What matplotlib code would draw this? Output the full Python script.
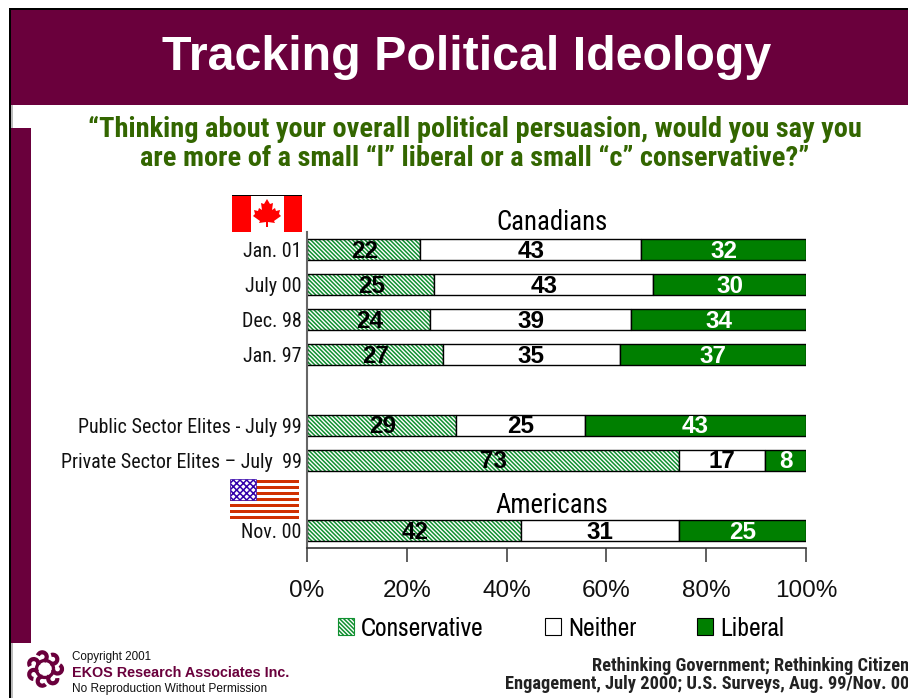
import numpy as np
import matplotlib
matplotlib.use("Agg")
import matplotlib.pyplot as plt
from matplotlib.patches import Rectangle, Polygon, Arc, Patch

# Survey results, top row first (blank rows separate the groups)
groups = ["Jan. 01", "July 00", "Dec. 98", "Jan. 97", "",
          "Public Sector Elites - July 99", "Private Sector Elites \u2013 July  99", "", "Nov. 00"]
conservative = [22, 25, 24, 27, 0, 29, 73, 0, 42]
neither = [43, 43, 39, 35, 0, 25, 17, 0, 31]
liberal = [32, 30, 34, 37, 0, 43, 8, 0, 25]
pct_ticks = [0, 20, 40, 60, 80, 100]

MAROON = "#6a003c"
GREEN = "#007f00"
HATCH_GREEN = "#109030"
OLIVE = "#336600"
NARROW = ["Roboto Condensed", "Liberation Sans"]
LEGEND_FONT = ["Archivo Narrow", "Roboto Condensed", "Liberation Sans"]
W, H = 908, 698

plt.rcParams["font.family"] = ["Liberation Sans", "DejaVu Sans"]
plt.rcParams["hatch.linewidth"] = 1.1

fig = plt.figure(figsize=(W / 100, H / 100), dpi=100, facecolor="white")

# overlay in pixel units for the slide furniture
bg = fig.add_axes([0, 0, 1, 1])
bg.set_xlim(0, W)
bg.set_ylim(H, 0)
bg.axis("off")

bg.add_patch(Rectangle((11, 105), 1.7, 593, color="#bbbbbb", lw=0))
bg.add_patch(Rectangle((9, 8), 899, 2.2, color="black", lw=0))
bg.add_patch(Rectangle((9, 8), 2.2, 690, color="black", lw=0))
bg.add_patch(Rectangle((11, 10), 897, 95, color=MAROON, lw=0))
bg.add_patch(Rectangle((11, 128), 19.5, 515, color=MAROON, lw=0))

bg.text(467, 58, "Tracking Political Ideology", color="white", fontsize=34.8,
        fontweight="bold", ha="center", va="center")
bg.text(475, 144, "\u201cThinking about your overall political persuasion, would you say you\n"
        "are more of a small \u201cl\u201d liberal or a small \u201cc\u201d conservative?\u201d",
        color=OLIVE, fontsize=20.4, fontweight="bold", family=NARROW,
        ha="center", va="center", linespacing=1.1)

# Canadian flag
bg.add_patch(Rectangle((232, 195), 70, 37, color="white", lw=0))
bg.add_patch(Rectangle((232, 195), 19, 37, color="#ff0000", lw=0))
bg.add_patch(Rectangle((284, 195), 18, 37, color="#ff0000", lw=0))
bg.add_patch(Rectangle((232, 195), 70, 1, color="black", lw=0))
leaf = [(267, 199), (270, 204), (273, 203), (272, 210), (275, 208), (276, 211),
        (280, 210), (279, 214), (281, 216), (274, 221), (275, 223), (268, 222),
        (268, 227), (266, 227), (266, 222), (259, 223), (260, 221), (253, 216),
        (255, 214), (254, 210), (258, 211), (259, 208), (262, 210), (261, 203), (264, 204)]
bg.add_patch(Polygon(leaf, closed=True, color="#ff0000", lw=0))

# American flag
for i in range(7):
    bg.add_patch(Rectangle((230, 480 + i * 5.95), 69, 3, color="#d03000", lw=0))
bg.add_patch(Rectangle((230, 479), 25.5, 21, facecolor="white", edgecolor="#3300aa",
                       hatch="xxxxx", lw=0.5))

# footer text
bg.text(72, 657, "Copyright 2001", fontsize=8.4, color="#111111", va="center")
bg.text(72, 673, "EKOS Research Associates Inc.", fontsize=10.4, color=MAROON,
        fontweight="bold", va="center")
bg.text(72, 689, "No Reproduction Without Permission", fontsize=8.6, color="#111111", va="center")
bg.text(909, 675, "Rethinking Government; Rethinking Citizen\n"
        "Engagement, July 2000; U.S. Surveys, Aug. 99/Nov. 00",
        fontsize=13.2, fontweight="bold", family=NARROW, color="#222222",
        ha="right", va="center", linespacing=1.03)

# logo: ring of curled strokes
for k in range(7):
    a = 2 * np.pi * k / 7
    cx, cy = 45 + 12.5 * np.cos(a), 669 + 12.5 * np.sin(a)
    bg.add_patch(Arc((cx, cy), 9, 9, angle=np.degrees(a), theta1=-60, theta2=170,
                     color=MAROON, lw=3.0))
bg.add_patch(Arc((45, 669), 17, 17, color=MAROON, lw=2.4))

# chart area
left, right, top, bottom = 307, 806, 232, 548
ax = fig.add_axes([left / W, 1 - bottom / H, (right - left) / W, (bottom - top) / H])
ax.patch.set_alpha(0)

cons = np.array(conservative, dtype=float)
nei = np.array(neither, dtype=float)
lib = np.array(liberal, dtype=float)
totals = cons + nei + lib
totals[totals == 0] = 1
cons_p = cons / totals * 100
nei_p = nei / totals * 100
lib_p = lib / totals * 100

y = np.arange(len(groups))
h = 0.6
mask = cons > 0
ax.barh(y[mask], cons_p[mask], h, color="white", edgecolor=HATCH_GREEN, hatch="\\\\\\\\\\\\\\\\", lw=0)
ax.barh(y[mask], cons_p[mask], h, color="none", edgecolor="black", lw=1)
ax.barh(y[mask], nei_p[mask], h, left=cons_p[mask], color="white", edgecolor="black", lw=1)
ax.barh(y[mask], lib_p[mask], h, left=(cons_p + nei_p)[mask], color=GREEN, edgecolor="black", lw=1)

for i in y[mask]:
    ax.text(cons_p[i] / 2 + 0.2, i + 0.05, str(conservative[i]), ha="center", va="center",
            fontsize=17.5, fontweight="bold", color="black")
    ax.text(cons_p[i] + nei_p[i] / 2, i + 0.05, str(neither[i]), ha="center", va="center",
            fontsize=17.5, fontweight="bold", color="black")
    ax.text(cons_p[i] + nei_p[i] + lib_p[i] / 2, i + 0.05, str(liberal[i]), ha="center", va="center",
            fontsize=17.5, fontweight="bold", color="white")

ax.text(49, -0.78, "Canadians", fontsize=19.3, family=NARROW, ha="center", va="center")
ax.text(49, 7.28, "Americans", fontsize=19.3, family=NARROW, ha="center", va="center")

ax.set_xlim(0, 100)
ax.set_ylim(len(groups) - 0.5, -0.5)
ax.set_yticks(y)
ax.set_yticklabels(groups, fontsize=14.4, family=NARROW, color="#111111")
ax.set_xticks(pct_ticks)
ax.set_xticklabels([f"{t}%" for t in pct_ticks], fontsize=17.5, color="#111111")
ax.tick_params(axis="y", length=0, pad=4)
ax.tick_params(axis="x", length=10, width=1.2, color="#444444", pad=13)
for s in ["top", "right"]:
    ax.spines[s].set_visible(False)
ax.spines["left"].set_color("#666666")
ax.spines["left"].set_linewidth(1.5)
ax.spines["bottom"].set_color("#333333")
ax.spines["bottom"].set_linewidth(1.2)

handles = [Patch(facecolor="white", edgecolor=HATCH_GREEN, hatch="\\\\\\\\\\\\\\\\", lw=0.8),
           Patch(facecolor="white", edgecolor="black", lw=0.8),
           Patch(facecolor=GREEN, edgecolor="black", lw=0.8)]
fig.legend(handles, ["Conservative", "Neither", "Liberal"], loc="center",
           bbox_to_anchor=(561 / W, 1 - 628 / H), ncol=3, frameon=False,
           prop={"family": LEGEND_FONT, "size": 18.3}, handlelength=0.63, handleheight=0.63,
           handletextpad=0.28, columnspacing=2.4)

fig.savefig("out.png", dpi=100)
